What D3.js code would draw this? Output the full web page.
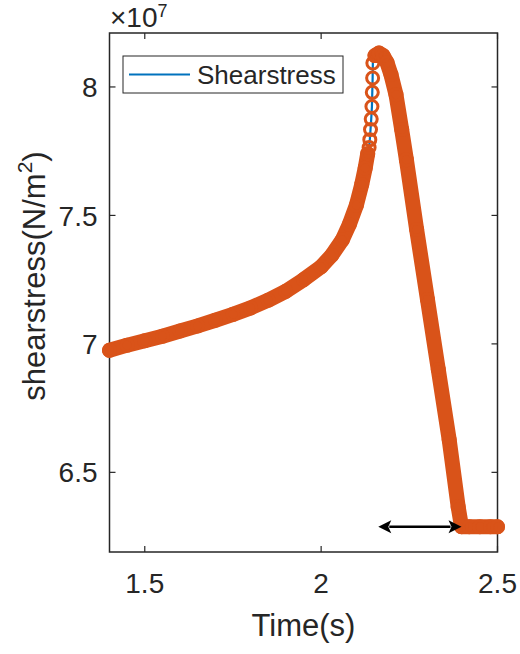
<!DOCTYPE html>
<html>
<head>
<meta charset="utf-8">
<script src="https://cdn.jsdelivr.net/npm/d3@7"></script>
<style>
  body { margin: 0; background: #fff; }
  svg { display: block; font-family: "Liberation Sans", Arial, sans-serif; }
</style>
</head>
<body>
<div id="chart"></div>
<script>
// time (s)
const times = [
  1.40, 1.45, 1.50, 1.55, 1.60, 1.65, 1.70, 1.75, 1.80, 1.85,
  1.90, 1.95, 2.00, 2.03, 2.06, 2.08, 2.10, 2.115, 2.125, 2.132,
  2.136, 2.138, 2.140, 2.142, 2.144, 2.145, 2.146, 2.1466,
  2.1528, 2.1641, 2.1754, 2.1868, 2.198, 2.2122, 2.2284, 2.2417, 2.2708,
  2.3014, 2.3322, 2.363, 2.3885, 2.398,
  2.42, 2.45, 2.48, 2.50
];
// shear stress, x 10^7 N/m^2
const stress = [
  6.975, 6.995, 7.012, 7.030, 7.050, 7.070, 7.092, 7.115, 7.140, 7.170,
  7.205, 7.250, 7.300, 7.345, 7.405, 7.465, 7.540, 7.620, 7.685, 7.740,
  7.764, 7.795, 7.834, 7.875, 7.924, 7.979, 8.035, 8.093,
  8.122, 8.132, 8.122, 8.095, 8.048, 7.970, 7.834, 7.717, 7.445,
  7.173, 6.900, 6.627, 6.366, 6.288,
  6.288, 6.288, 6.288, 6.288
];
// samples that are spread apart (markers seen one by one)
const sparseRange = [2.134, 2.1467];

const xTicks = [1.5, 2, 2.5];
const yTicks = [6.5, 7, 7.5, 8];
const legendLabel = "Shearstress";
// arrow annotation: time span and level
const arrowSpan = [2.162, 2.398];
const arrowLevel = 6.288;

const W = 520, H = 654;
const margin = { top: 33, right: 22.5, bottom: 102, left: 109.5 };
const innerW = W - margin.left - margin.right;
const innerH = H - margin.top - margin.bottom;

const axisColor = "#262626";
const blue = "#0072BD";
const orange = "#D95319";

const data = times.map((t, i) => ({ t: t, v: stress[i] }));

const svg = d3.select("#chart").append("svg")
  .attr("width", W).attr("height", H);

const x = d3.scaleLinear().domain([1.4, 2.5]).range([margin.left, margin.left + innerW]);
const y = d3.scaleLinear().domain([6.19, 8.21]).range([margin.top + innerH, margin.top]);

// box
svg.append("rect")
  .attr("x", margin.left).attr("y", margin.top)
  .attr("width", innerW).attr("height", innerH)
  .attr("fill", "none").attr("stroke", axisColor).attr("stroke-width", 1.5);

// ticks (inside, on all four sides)
const tickLen = 6;
const tk = svg.append("g").attr("stroke", axisColor).attr("stroke-width", 1.2);
xTicks.forEach((d) => {
  tk.append("line").attr("x1", x(d)).attr("x2", x(d))
    .attr("y1", margin.top + innerH).attr("y2", margin.top + innerH - tickLen);
  tk.append("line").attr("x1", x(d)).attr("x2", x(d))
    .attr("y1", margin.top).attr("y2", margin.top + tickLen);
});
yTicks.forEach((d) => {
  tk.append("line").attr("y1", y(d)).attr("y2", y(d))
    .attr("x1", margin.left).attr("x2", margin.left + tickLen);
  tk.append("line").attr("y1", y(d)).attr("y2", y(d))
    .attr("x1", margin.left + innerW).attr("x2", margin.left + innerW - tickLen);
});

// tick labels
svg.append("g").selectAll("text").data(xTicks).join("text")
  .attr("x", (d) => x(d)).attr("y", 593)
  .attr("text-anchor", "middle")
  .attr("font-size", 28).attr("fill", axisColor)
  .text((d) => d);

svg.append("g").selectAll("text").data(yTicks).join("text")
  .attr("x", 97.5).attr("y", (d) => y(d))
  .attr("dy", "0.36em")
  .attr("text-anchor", "end")
  .attr("font-size", 28).attr("fill", axisColor)
  .text((d) => d);

// exponent
const ex = svg.append("text")
  .attr("x", 110).attr("y", 27)
  .attr("font-size", 28).attr("fill", axisColor);
ex.append("tspan").text("\u00d710");
ex.append("tspan").attr("font-size", 18).attr("dy", -10).text("7");

// axis labels
svg.append("text")
  .attr("x", margin.left + innerW / 2).attr("y", 636)
  .attr("text-anchor", "middle")
  .attr("font-size", 31).attr("fill", axisColor)
  .text("Time(s)");

const yl = svg.append("text")
  .attr("transform", "translate(45,276) rotate(-90)")
  .attr("text-anchor", "middle")
  .attr("font-size", 31).attr("fill", axisColor);
yl.append("tspan").text("shearstress(N/m");
yl.append("tspan").attr("font-size", 21).attr("dy", -13).text("2");
yl.append("tspan").attr("dy", 13).text(")");

// blue line
const line = d3.line().x((d) => x(d.t)).y((d) => y(d.v));
svg.append("path")
  .datum(data)
  .attr("fill", "none").attr("stroke", blue).attr("stroke-width", 2.2)
  .attr("d", line);

// densely packed markers merge into a thick band
const band = d3.line()
  .defined((d) => !(d.t > sparseRange[0] && d.t < sparseRange[1]))
  .x((d) => x(d.t)).y((d) => y(d.v));
svg.append("path")
  .datum(data)
  .attr("fill", "none").attr("stroke", orange).attr("stroke-width", 15)
  .attr("stroke-linejoin", "round").attr("stroke-linecap", "round")
  .attr("d", band);

// circle markers
svg.append("g").selectAll("circle").data(data).join("circle")
  .attr("cx", (d) => x(d.t)).attr("cy", (d) => y(d.v))
  .attr("r", 6)
  .attr("fill", "none").attr("stroke", orange).attr("stroke-width", 3);

// double arrow
const ay = y(arrowLevel);
const ax0 = x(arrowSpan[0]), ax1 = x(arrowSpan[1]);
const head = 13, hw = 6.5;
svg.append("line")
  .attr("x1", ax0 + head - 2).attr("x2", ax1 - head + 2)
  .attr("y1", ay).attr("y2", ay)
  .attr("stroke", "#000").attr("stroke-width", 2.5);
svg.append("path")
  .attr("d", `M${ax0},${ay} L${ax0 + head},${ay - hw} L${ax0 + head - 3},${ay} L${ax0 + head},${ay + hw} Z`)
  .attr("fill", "#000");
svg.append("path")
  .attr("d", `M${ax1},${ay} L${ax1 - head},${ay - hw} L${ax1 - head + 3},${ay} L${ax1 - head},${ay + hw} Z`)
  .attr("fill", "#000");

// legend
const lg = svg.append("g");
lg.append("rect")
  .attr("x", 123).attr("y", 56).attr("width", 220).attr("height", 37)
  .attr("fill", "#fff").attr("stroke", axisColor).attr("stroke-width", 1);
lg.append("line")
  .attr("x1", 129).attr("x2", 190).attr("y1", 74.5).attr("y2", 74.5)
  .attr("stroke", blue).attr("stroke-width", 2);
lg.append("text")
  .attr("x", 197).attr("y", 74.5).attr("dy", "0.36em")
  .attr("font-size", 26).attr("fill", axisColor)
  .text(legendLabel);
</script>
</body>
</html>
